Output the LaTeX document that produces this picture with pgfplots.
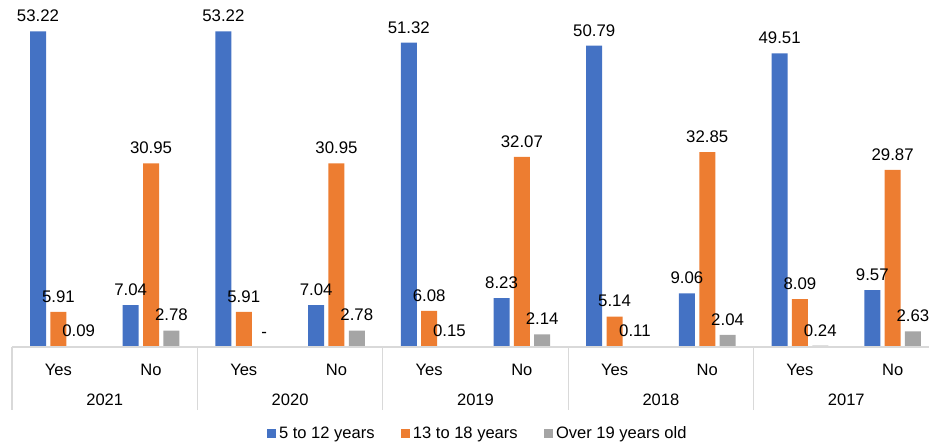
\documentclass[border=0pt]{standalone}
\usepackage{pgfplots}
\usepackage{pgfplotstable}
\pgfplotsset{compat=1.18}
\usepackage{fontspec}
\setmainfont{Liberation Sans}
\definecolor{cblue}{HTML}{4472C4}
\definecolor{corange}{HTML}{ED7D31}
\definecolor{cgray}{HTML}{A5A5A5}
\definecolor{cline}{HTML}{D9D9D9}

\pgfplotstableread{
x y lbl
0 53.22 53.22
1 7.04 7.04
2 53.22 53.22
3 7.04 7.04
4 51.32 51.32
5 8.23 8.23
6 50.79 50.79
7 9.06 9.06
8 49.51 49.51
9 9.57 9.57
}\tblblue
\pgfplotstableread{
x y lbl
0 5.91 5.91
1 30.95 30.95
2 5.91 5.91
3 30.95 30.95
4 6.08 6.08
5 32.07 32.07
6 5.14 5.14
7 32.85 32.85
8 8.09 8.09
9 29.87 29.87
}\tblorange
\pgfplotstableread{
x y lbl
0 0.09 0.09
1 2.78 2.78
2 0 -
3 2.78 2.78
4 0.15 0.15
5 2.14 2.14
6 0.11 0.11
7 2.04 2.04
8 0.24 0.24
9 2.63 2.63
}\tblgray

\begin{document}
\begin{tikzpicture}
\useasboundingbox (0,0) rectangle (696.75pt,336pt);
\clip (0,0) rectangle (696.75pt,336pt);
\begin{axis}[
  at={(9pt,75.75pt)}, anchor=south west,
  scale only axis,
  width=695.25pt, height=260.25pt,
  xmin=-0.5, xmax=9.5, ymin=0, ymax=58.5,
  clip=false,
  axis on top,
  ybar, bar width=12pt,
  axis x line*=bottom, axis y line=none,
  x axis line style={draw=cline, line width=0.9pt, -},
  xtick={0,...,9},
  xticklabels={Yes,No,Yes,No,Yes,No,Yes,No,Yes,No},
  major tick length=0pt,
  xticklabel style={anchor=base, yshift=-21.5pt, font=\fontsize{12.4}{14}\selectfont, text=black},
  point meta=explicit symbolic,
  nodes near coords={\pgfplotspointmeta},
  every node near coord/.append style={font=\fontsize{12.6}{14}\selectfont, text=black, anchor=south, yshift=3.5pt},
  legend columns=3,
  legend style={at={(0.503,-0.25)}, anchor=center, draw=none, fill=none,
    font=\fontsize{12.4}{14}\selectfont,
    nodes={inner xsep=2pt, inner ysep=2pt},
    /tikz/every even column/.append style={column sep=18pt}},
  legend image code/.code={\fill[#1,draw=none] (0pt,-3.4pt) rectangle (6.75pt,3.4pt);},
]
\addplot[fill=cblue, draw=none, bar shift=-15.25pt] table[x=x, y=y, meta=lbl] {\tblblue};
\addlegendentry{5 to 12 years}
\addplot[fill=corange, draw=none, bar shift=0pt] table[x=x, y=y, meta=lbl] {\tblorange};
\addlegendentry{13 to 18 years}
\addplot[fill=cgray, draw=none, bar shift=15.25pt] table[x=x, y=y, meta=lbl] {\tblgray};
\addlegendentry{Over 19 years old}

\draw[cline, line width=0.8pt] (axis cs:-0.5,0) -- ++(0pt,-47.25pt);
\draw[cline, line width=0.8pt] (axis cs:1.5,0) -- ++(0pt,-47.25pt);
\draw[cline, line width=0.8pt] (axis cs:3.5,0) -- ++(0pt,-47.25pt);
\draw[cline, line width=0.8pt] (axis cs:5.5,0) -- ++(0pt,-47.25pt);
\draw[cline, line width=0.8pt] (axis cs:7.5,0) -- ++(0pt,-47.25pt);
\draw[cline, line width=0.8pt] (axis cs:9.5,0) -- ++(0pt,-47.25pt);

\node[anchor=base, yshift=-44.25pt, font=\fontsize{12.4}{14}\selectfont] at (axis cs:0.5,0) {2021};
\node[anchor=base, yshift=-44.25pt, font=\fontsize{12.4}{14}\selectfont] at (axis cs:2.5,0) {2020};
\node[anchor=base, yshift=-44.25pt, font=\fontsize{12.4}{14}\selectfont] at (axis cs:4.5,0) {2019};
\node[anchor=base, yshift=-44.25pt, font=\fontsize{12.4}{14}\selectfont] at (axis cs:6.5,0) {2018};
\node[anchor=base, yshift=-44.25pt, font=\fontsize{12.4}{14}\selectfont] at (axis cs:8.5,0) {2017};
\end{axis}
\end{tikzpicture}
\end{document}
